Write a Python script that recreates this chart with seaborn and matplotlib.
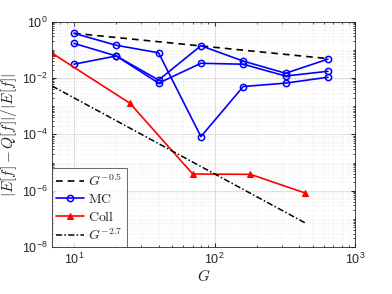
import numpy as np
import pandas as pd
import matplotlib
matplotlib.use('Agg')
import matplotlib.pyplot as plt
from matplotlib.ticker import LogLocator, NullFormatter
import seaborn as sns

# Data
G_mc = [10, 20, 40, 80, 160, 320, 640]
mc_run1 = [0.39, 0.146, 0.079, 8.3e-5, 0.005, 0.0066, 0.0107]
mc_run2 = [0.171, 0.061, 0.0085, 0.141, 0.040, 0.0148, 0.047]
mc_run3 = [0.031, 0.061, 0.0066, 0.0335, 0.031, 0.0118, 0.0174]

G_coll = [7, 25, 70, 180, 440]
coll_err = [0.076, 1.28e-3, 3.9e-6, 3.8e-6, 8.3e-7]

G_ref05 = [10, 640]
ref05 = [0.39, 0.049]
G_ref27 = [7, 440]
ref27 = [5.2e-3, 7.2e-8]

mc = pd.DataFrame({
    'G': G_mc * 3,
    'err': mc_run1 + mc_run2 + mc_run3,
    'run': [1] * 7 + [2] * 7 + [3] * 7,
})
coll = pd.DataFrame({'G': G_coll, 'err': coll_err})

sns.set_style('ticks')
plt.rcParams['font.family'] = ['Liberation Sans', 'DejaVu Sans']
plt.rcParams['mathtext.fontset'] = 'cm'

fig = plt.figure(figsize=(3.92, 2.94), dpi=100)
ax = fig.add_axes([0.133, 0.160, 0.773, 0.766])

sns.lineplot(x=G_ref05, y=ref05, ax=ax, color='black', lw=1.2,
             linestyle=(0, (4, 3)), label='$G^{-0.5}$')
sns.lineplot(data=mc, x='G', y='err', units='run', estimator=None, ax=ax,
             color='blue', lw=1.2, marker='o', markersize=4.5,
             markerfacecolor='none', markeredgecolor='blue', markeredgewidth=1.1,
             label='$\\mathrm{MC}$')
sns.lineplot(data=coll, x='G', y='err', ax=ax, color='red', lw=1.2,
             marker='^', markersize=5, markeredgecolor='red', label='$\\mathrm{Coll}$')
sns.lineplot(x=G_ref27, y=ref27, ax=ax, color='black', lw=1.1,
             linestyle=(0, (4, 1.5, 1, 1.5)), label='$G^{-2.7}$')

ax.set_xscale('log')
ax.set_yscale('log')
ax.set_xlim(7, 1000)
ax.set_ylim(1e-8, 1)
ax.set_yticks([1e-8, 1e-6, 1e-4, 1e-2, 1e0])
ax.yaxis.set_minor_locator(LogLocator(base=10, subs=np.arange(1, 10), numticks=100))
ax.yaxis.set_minor_formatter(NullFormatter())
ax.xaxis.set_minor_locator(LogLocator(base=10, subs=np.arange(2, 10), numticks=100))
ax.xaxis.set_minor_formatter(NullFormatter())

ax.grid(True, which='major', color='#d9d9d9', lw=0.6)
ax.grid(True, which='minor', color='#e6e6e6', lw=0.5, linestyle=':')
ax.set_axisbelow(True)
ax.tick_params(which='both', direction='in', top=True, right=True,
               labelsize=9, colors='#262626', length=3)
ax.tick_params(which='minor', length=1.5)
for s in ax.spines.values():
    s.set_color('#262626')
    s.set_linewidth(0.6)

ax.set_xlabel('$G$', fontsize=11, labelpad=1)
ax.set_ylabel('$|E[f]-Q[f]|/|E[f]|$', fontsize=11, labelpad=2)

# one legend entry per label
handles, labels = ax.get_legend_handles_labels()
uniq = dict(zip(labels, handles))
leg = ax.legend(list(uniq.values()), list(uniq.keys()), loc='lower left',
                fontsize=10, frameon=True, fancybox=False, edgecolor='#262626',
                borderaxespad=0, handlelength=2.0, handletextpad=0.3,
                labelspacing=0.25, borderpad=0.3)
leg.get_frame().set_linewidth(0.6)

fig.savefig('out.png', dpi=100)
